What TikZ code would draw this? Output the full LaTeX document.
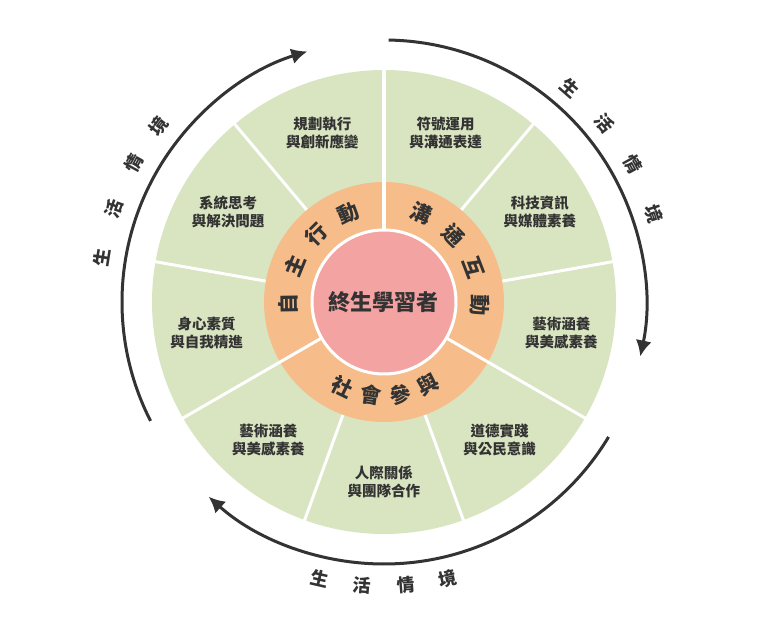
\documentclass[tikz,border=0pt]{standalone}
\usepackage{fontspec}
\newfontfamily\cjk{Noto Sans CJK TC}
\usetikzlibrary{arrows.meta}
\definecolor{leaf}{HTML}{D9E4C1}
\definecolor{peach}{HTML}{F6BD8A}
\definecolor{rose}{HTML}{F4A3A3}
\definecolor{ink}{HTML}{333333}

\begin{document}
\begin{tikzpicture}[x=1pt,y=1pt,
    small/.style = {font=\cjk\bfseries\fontsize{14.5}{18}\selectfont, text=ink, align=center},
    ringtxt/.style = {font=\cjk\bfseries\fontsize{21}{21}\selectfont, text=ink},
    outtxt/.style = {font=\cjk\bfseries\fontsize{18}{18}\selectfont, text=ink},
    divider/.style = {white, line width=3pt},
    cycle/.style = {ink, line width=3pt, -{Latex[length=16pt,width=16pt]}}]
    \useasboundingbox (-384,-326) rectangle (384,302);

    % rings
    \fill[leaf] (0,0) circle (232);
    \foreach \a in {90,50,...,-230}
        \draw[divider] (\a:120) -- (\a:233);
    \fill[peach] (0,0) circle (120);
    \foreach \a in {90,-30,-150}
        \draw[divider] (\a:72) -- (\a:121);
    \draw[divider, fill=rose] (0,0) circle (72);
    \node[font=\cjk\bfseries\fontsize{22}{22}\selectfont, text=ink] (core) at (0,0) {終生學習者};

    % nine outer topics
    \foreach \a/\t [count=\i] in {70/{符號運用\\與溝通表達}, 30/{科技資訊\\與媒體素養},
        -10/{藝術涵養\\與美感素養}, -50/{道德實踐\\與公民意識}, -90/{人際關係\\與團隊合作},
        -130/{藝術涵養\\與美感素養}, 190/{身心素質\\與自我精進}, 150/{系統思考\\與解決問題},
        110/{規劃執行\\與創新應變}}
        \node[small] (topic\i) at (\a:180) {\t};

    % middle ring words
    \foreach \a/\c [count=\i] in {181/自, 158/主, 135/行, 112/動}
        \node[ringtxt, rotate=\a-90] (self\i) at (\a:96) {\c};
    \foreach \a/\c [count=\i] in {67/溝, 44/通, 21/互, -2/動}
        \node[ringtxt, rotate=\a-90] (comm\i) at (\a:96) {\c};
    \foreach \a/\c [count=\i] in {-116/社, -98/會, -80/參, -62/與}
        \node[ringtxt, rotate=\a+90] (soc\i) at (\a:94) {\c};

    % context arrows
    \draw[cycle] (207:262) arc (207:107:262);
    \draw[cycle] (89:262) arc (89:-12:262);
    \draw[cycle] (-31:262) arc (-31:-132:262);

    \foreach \a/\c [count=\i] in {171/生, 161/活, 151/情, 142/境}
        \node[outtxt, rotate=\a-90] (ctxa\i) at (\a:286) {\c};
    \foreach \a/\c [count=\i] in {49/生, 39/活, 29/情, 18/境}
        \node[outtxt, rotate=\a-90] (ctxb\i) at (\a:284) {\c};
    \foreach \a/\c [count=\i] in {-103/生, -94.5/活, -85.5/情, -77/境}
        \node[outtxt, rotate=\a+90] (ctxc\i) at (\a:284) {\c};
\end{tikzpicture}
\end{document}
